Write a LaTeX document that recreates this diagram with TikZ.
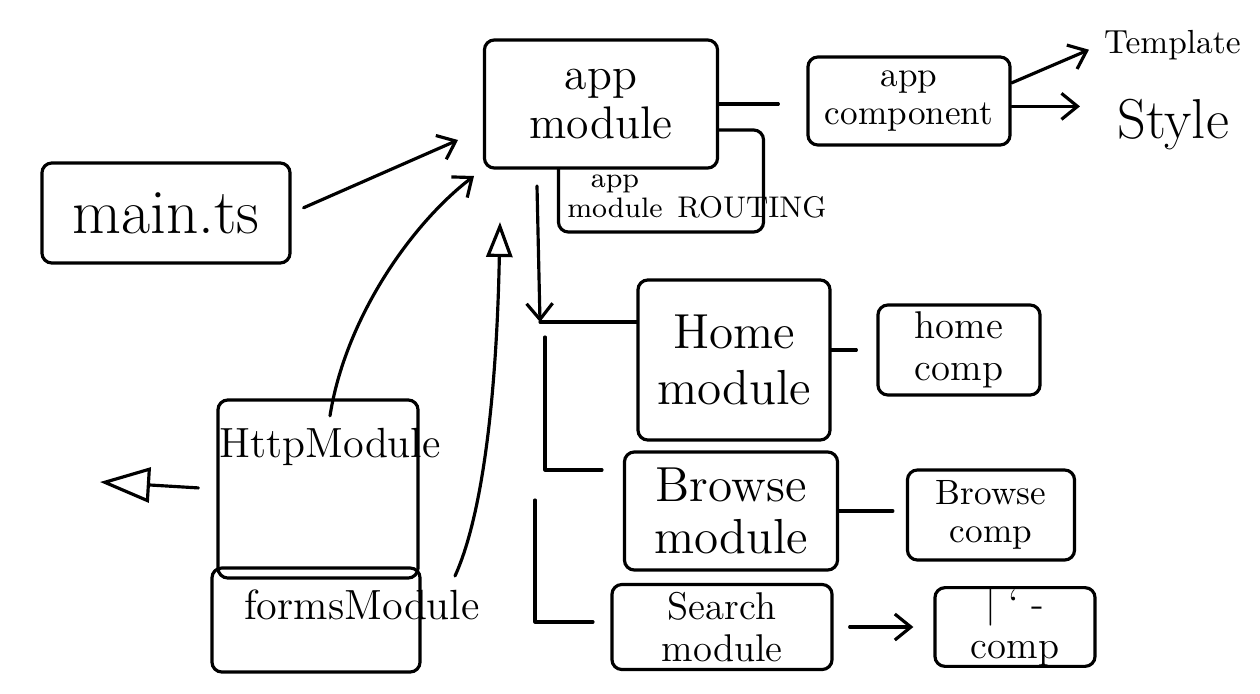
\documentclass[tikz,border=0pt]{standalone}
\usepackage{fontspec}
\usetikzlibrary{arrows.meta}
\tikzset{
  sketchbox/.style={draw,line width=0.9pt,rounded corners=1mm,fill=white,align=center,inner sep=0pt},
  ink/.style={line width=0.9pt,line cap=round,line join=round},
  barb/.style={ink,-{Straight Barb[length=1.6mm,width=2.6mm]}},
  tri/.style={ink,-{Triangle[open,length=3.5mm,width=2.6mm]}},
  bigtri/.style={ink,-{Triangle[open,length=5mm,width=3.5mm]}},
}

\begin{document}
\begin{tikzpicture}[x=0.01cm,y=-0.01cm]
  \useasboundingbox (0,0) rectangle (1260,694);
  % boxes
  \node[sketchbox,minimum width=2.48cm,minimum height=1cm,font=\fontsize{18}{20}\selectfont] (maints) at (166,213) {main.ts};
  \node[sketchbox,minimum width=2.05cm,minimum height=1.02cm] (routing) at (661,181) {};
  \node[sketchbox,minimum width=2.33cm,minimum height=1.28cm,font=\fontsize{13}{14}\selectfont] (appmod) at (601,104) {app\\module};
  \node[font=\fontsize{8}{8.5}\selectfont,align=center] (routtext) at (615,196) {app\\module};
  \node[font=\fontsize{8.5}{9}\selectfont] (routword) at (752,207) {ROUTING};
  \node[sketchbox,minimum width=2.02cm,minimum height=0.88cm,font=\fontsize{10}{11}\selectfont] (appcomp) at (909,101) {app\\component};
  \node[font=\fontsize{9.5}{11}\selectfont,anchor=west,inner sep=1pt] (template) at (1100,45) {Template};
  \node[font=\fontsize{16}{18}\selectfont,anchor=west] (style) at (1105,125) {Style};
  \node[sketchbox,minimum width=1.92cm,minimum height=1.6cm,font=\fontsize{14}{16}\selectfont] (home) at (734,360) {Home\\module};
  \node[sketchbox,minimum width=1.62cm,minimum height=0.9cm,font=\fontsize{11}{12}\selectfont] (homecomp) at (959,350) {home\\comp};
  \node[sketchbox,minimum width=2.13cm,minimum height=1.18cm,font=\fontsize{14}{15}\selectfont] (browse) at (731,511) {Browse\\module};
  \node[sketchbox,minimum width=1.67cm,minimum height=0.9cm,font=\fontsize{10}{11}\selectfont] (browsecomp) at (991,515) {Browse\\comp};
  \node[sketchbox,minimum width=2.2cm,minimum height=0.85cm,font=\fontsize{11}{12}\selectfont] (search) at (722,627) {Search\\module};
  \node[sketchbox,minimum width=1.6cm,minimum height=0.7cm,font=\fontsize{11}{12}\selectfont] (searchcomp) at (1015,627) {| ` -\\comp};
  \node[sketchbox,minimum width=2.08cm,minimum height=1.04cm] (forms) at (316,620) {};
  \node[sketchbox,fill=none,minimum width=2cm,minimum height=1.78cm] (http) at (318,489) {};
  \node[font=\fontsize{12}{13}\selectfont] (httptext) at (330,447) {HttpModule};
  \node[font=\fontsize{12}{13}\selectfont] (formstext) at (362,605) {formsModule};

  % imports into app module
  \coordinate (mainhead) at (458,140);
  \draw[barb,shorten <=1.3mm] (maints.east) -- (mainhead);
  \coordinate (httphead) at (474,176);
  \draw[barb] (httptext.north) .. controls (345,320) and (410,225) .. (httphead);
  \coordinate (formstail) at (455,576);
  \coordinate (formshead) at (500,222);
  \draw[tri] (formstail) .. controls (485,510) and (497,380) .. (formshead);

  % feature modules
  \coordinate (trunktop) at (537,186);
  \coordinate (trunk) at (540,322);
  \draw[barb] (trunktop) -- (trunk);
  \draw[ink] (trunk) -- (trunk -| home.west);
  \coordinate (browsetop) at (545,337);
  \coordinate (browsefork) at (602,470);
  \draw[ink] (browsetop) |- (browsefork);
  \coordinate (searchtop) at (535,500);
  \coordinate (searchfork) at (593,622);
  \draw[ink] (searchtop) |- (searchfork);

  % components
  \draw[ink,shorten >=2.8mm] (appmod.east) -- (appmod.east -| appcomp.west);
  \draw[barb,shorten >=1.2mm] (appcomp.10) -- (template.west);
  \draw[barb,shorten >=2.5mm] (appcomp.-3) -- (appcomp.-3 -| style.west);
  \draw[ink,shorten >=2mm] (homecomp.west -| home.east) -- (homecomp.west);
  \draw[ink,shorten >=1.3mm] (browse.east) -- (browse.east -| browsecomp.west);
  \draw[barb,shorten <=1.6mm,shorten >=2mm] (search.east) -- (search.east -| searchcomp.west);

  \coordinate (httpout) at (100,482);
  \draw[bigtri,shorten <=1.8mm] (http.west) -- (httpout);
\end{tikzpicture}
\end{document}
